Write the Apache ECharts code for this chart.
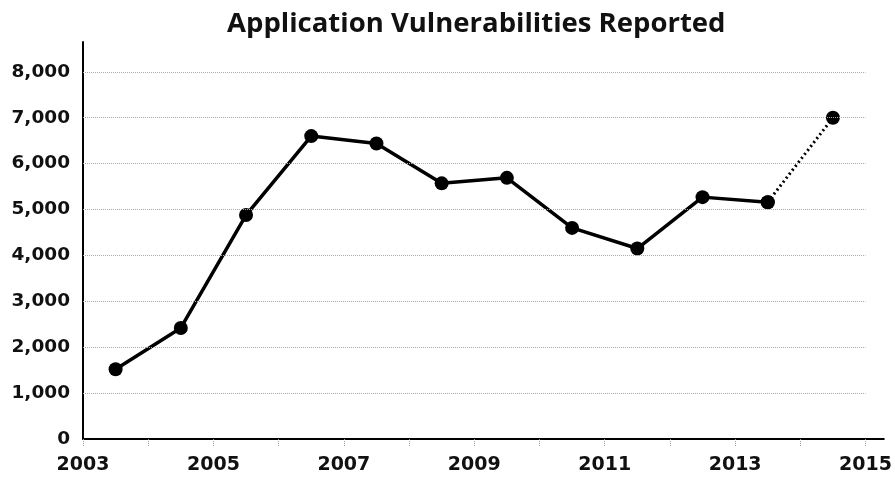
<!DOCTYPE html>
<html><head><meta charset="utf-8">
<script src="https://cdn.jsdelivr.net/npm/echarts@6/dist/echarts.min.js"></script>
<style>html,body{margin:0;padding:0;background:#fff}#c{width:895px;height:480px}</style>
</head><body><div id="c"></div>
<script>
const title = 'Application Vulnerabilities Reported';
const years = [2003, 2004, 2005, 2006, 2007, 2008, 2009, 2010, 2011, 2012, 2013, 2014];
const reported = [1520, 2420, 4880, 6600, 6440, 5570, 5690, 4600, 4150, 5270, 5160, 7000];
const yTicks = [1000, 2000, 3000, 4000, 5000, 6000, 7000, 8000];
const xStart = 2003, xEnd = 2015;
const solidCount = 11; // last segment (2013 -> 2014) drawn dotted

const pts = years.map((y, i) => [y + 0.5, reported[i]]);
const solidPts = pts.slice(0, solidCount);
const dottedPts = pts.slice(solidCount - 1);

const chart = echarts.init(document.getElementById('c'), null, {renderer: 'canvas'});
const font = '"Open Sans", "Noto Sans", sans-serif';
const labelFont = '"DejaVu Sans", "Open Sans", sans-serif';
chart.setOption({
  animation: false,
  backgroundColor: '#fff',
  title: {
    text: title, left: 222, top: 5,
    textStyle: {fontFamily: font, fontSize: 27.5, fontWeight: 'bold', color: '#111'}
  },
  grid: {left: 83, right: 10, top: 42, bottom: 41},
  xAxis: {
    type: 'value', min: xStart, max: 2015.28, interval: 1,
    axisLine: {lineStyle: {color: '#000', width: 2}},
    axisTick: {show: true, length: 8, lineStyle: {color: '#999', type: 'dotted', width: 1}},
    splitLine: {show: false},
    axisLabel: {
      fontFamily: labelFont, fontSize: 19, fontWeight: 'bold', color: '#111', margin: 17,
      showMaxLabel: false,
      formatter: v => (Number.isInteger(v) && v % 2 === 1) ? String(v) : ''
    }
  },
  yAxis: {
    type: 'value', min: 0, max: 8650, interval: 1000,
    axisLine: {show: true, lineStyle: {color: '#000', width: 2}},
    axisTick: {show: false},
    splitLine: {show: false},
    axisLabel: {
      fontFamily: labelFont, fontSize: 18.5, fontWeight: 'bold', color: '#111', margin: 13,
      showMaxLabel: false,
      formatter: v => (v % 1000 === 0) ? v.toLocaleString('en-US') : ''
    }
  },
  series: [
    {
      type: 'line', data: solidPts, symbol: 'circle', symbolSize: 14,
      itemStyle: {color: '#000'}, lineStyle: {color: '#000', width: 3.5},
      z: 3,
      markLine: {
        silent: true, symbol: 'none', label: {show: false},
        lineStyle: {color: '#aaa', type: 'dotted', width: 1},
        data: yTicks.map(v => [{coord: [xStart, v]}, {coord: [xEnd, v]}])
      }
    },
    {
      type: 'line', data: dottedPts, symbol: 'circle', symbolSize: 14,
      itemStyle: {color: '#000'}, lineStyle: {color: '#000', width: 3, type: [2, 3]},
      z: 3
    }
  ]
});
</script></body></html>
